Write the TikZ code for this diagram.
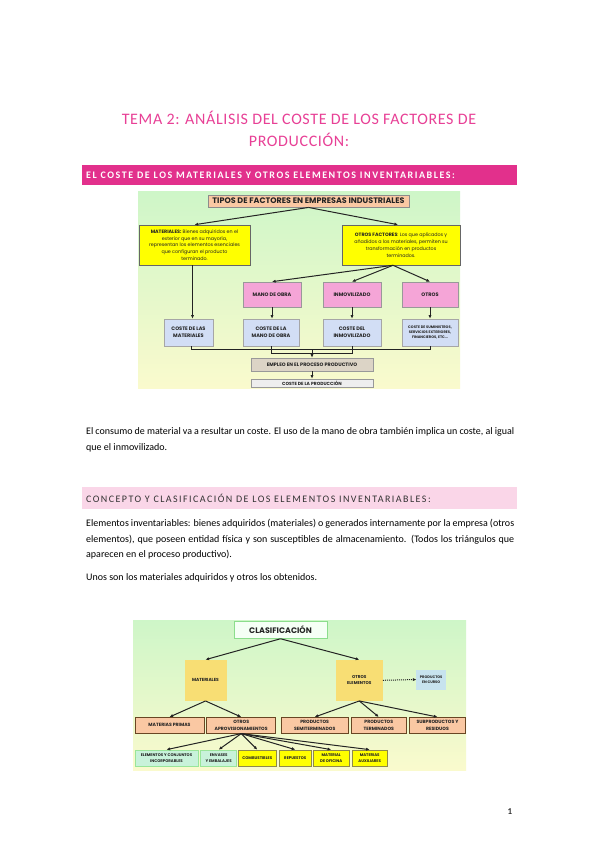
\documentclass[tikz,border=0pt]{standalone}
\usepackage{fontspec}
\setmainfont{Carlito}
\newfontfamily\gfont{Poppins}
\usetikzlibrary{arrows.meta,calc}
\definecolor{titpink}{RGB}{232,64,150}
\definecolor{banmag}{RGB}{226,48,140}
\definecolor{banlite}{RGB}{250,214,232}
\definecolor{peach}{RGB}{250,200,163}
\definecolor{ybox}{RGB}{255,255,0}
\definecolor{pinkbox}{RGB}{245,165,215}
\definecolor{bluebox}{RGB}{210,222,245}
\definecolor{empl}{RGB}{220,212,198}
\definecolor{cprodc}{RGB}{238,238,238}
\definecolor{goldbox}{RGB}{248,222,116}
\definecolor{curso}{RGB}{199,227,238}
\definecolor{mint}{RGB}{200,242,218}
\definecolor{bgg}{RGB}{206,246,200}
\definecolor{bgy}{RGB}{250,250,205}
\definecolor{ink}{RGB}{35,35,35}
\tikzset{
 bx/.style={draw, rectangle, align=center, text=ink, inner sep=0.5pt,
   font=\gfont\bfseries\fontsize{5}{7}\selectfont, line width=0.6pt},
 arr/.style={-{Latex[length=3.6pt,width=3.2pt]}, line width=1pt, draw=ink},
 ln/.style={line width=1pt, draw=ink},
 bodyl/.style={anchor=base west, inner sep=0pt, text=black, font=\fontsize{10}{12}\selectfont},
 rowtwo/.style={bx, fill=peach, draw=black!45!brown, minimum height=16pt, font=\gfont\bfseries\fontsize{4.6}{6.6}\selectfont},
 rowthree/.style={bx, minimum height=16.7pt, font=\gfont\bfseries\fontsize{3.9}{5.6}\selectfont},
 titl/.style={text=titpink, inner sep=0pt, font=\fontsize{16}{19}\selectfont\addfontfeature{LetterSpace=4}},
}
\begin{document}
\begin{tikzpicture}[x=1pt,y=-1pt]
\useasboundingbox (0,0) rectangle (599,848);
\fill[white] (0,0) rectangle (599,848);

% ---- title
\node[titl] (t1) at (299,117.5) {TEMA 2: ANÁLISIS DEL COSTE DE LOS FACTORES DE};
\node[titl] (t2) at (299,140) {PRODUCCIÓN:};

% ---- banner 1
\fill[banmag] (82,165) rectangle (517,185);
\node[anchor=west, text=white, inner sep=0pt, font=\bfseries\fontsize{10}{11}\selectfont\addfontfeature{LetterSpace=15.5}] (b1) at (86,175.3) {EL COSTE DE LOS MATERIALES Y OTROS ELEMENTOS INVENTARIABLES:};

% ---- diagram 1
\shade[top color=bgg, bottom color=bgy] (138,191) rectangle (460,388);
\node[bx, fill=peach, draw=black!45, line width=0.9pt, minimum width=201pt, minimum height=12pt, font=\gfont\bfseries\fontsize{8}{9}\selectfont] (tipos) at (308.5,201) {TIPOS DE FACTORES EN EMPRESAS INDUSTRIALES};
\node[bx, fill=ybox, draw=black!60, minimum width=111pt, minimum height=40pt, font=\gfont\fontsize{4.8}{6.8}\selectfont] (mat) at (194.5,245) {\textbf{MATERIALES:} Bienes adquiridos en el\\exterior que en su mayoría,\\representan los elementos esenciales\\que configuran el producto\\terminado.};
\node[bx, fill=ybox, draw=black!60, minimum width=118pt, minimum height=40pt, font=\gfont\fontsize{4.8}{6.8}\selectfont] (otf) at (401,245) {\textbf{OTROS FACTORES}: Los que aplicados y\\añadidos a los materiales, permiten su\\transformación en productos\\terminados.};
\node[bx, fill=pinkbox, draw=black!40, minimum width=58pt, minimum height=25pt] (mano) at (272,294.5) {MANO DE OBRA};
\node[bx, fill=pinkbox, draw=black!40, minimum width=58pt, minimum height=25pt] (inm) at (352,294.5) {INMOVILIZADO};
\node[bx, fill=pinkbox, draw=black!40, minimum width=56pt, minimum height=25pt] (otr) at (430,294.5) {OTROS};
\node[bx, fill=bluebox, draw=black!35, minimum width=49pt, minimum height=27pt] (cmat) at (188.5,332.5) {COSTE DE LAS\\MATERIALES};
\node[bx, fill=bluebox, draw=black!35, minimum width=56pt, minimum height=27pt] (cmo) at (271,332.5) {COSTE DE LA\\MANO DE OBRA};
\node[bx, fill=bluebox, draw=black!35, minimum width=58pt, minimum height=27pt] (cinm) at (352,332.5) {COSTE DEL\\INMOVILIZADO};
\node[bx, fill=bluebox, draw=black!35, minimum width=56pt, minimum height=27pt, font=\gfont\bfseries\fontsize{3.6}{5.2}\selectfont] (cotr) at (430,332.5) {COSTE DE SUMINISTROS,\\SERVICIOS EXTERIORES,\\FINANCIEROS, ETC...};
\node[bx, fill=empl, draw=black!40, minimum width=122pt, minimum height=13pt, font=\gfont\bfseries\fontsize{4.9}{6}\selectfont] (emp) at (312,364.5) {EMPLEO EN EL PROCESO PRODUCTIVO};
\node[bx, fill=cprodc, draw=black!40, minimum width=122pt, minimum height=8pt, font=\gfont\bfseries\fontsize{4.5}{5}\selectfont] (cprod) at (312,383) {COSTE DE LA PRODUCCIÓN};

\draw[arr] (tipos.south) -- (mat.north);
\draw[arr] (tipos.south) -- ([xshift=-3pt]otf.north);
\draw[arr] ([xshift=-2pt]mat.south) -- ([xshift=-2pt]mat.south |- cmat.north);
\draw[arr] ([xshift=-8pt]otf.south) -- (mano.north);
\draw[arr] ([xshift=-8pt]otf.south) -- (inm.north);
\draw[arr] ([xshift=-8pt]otf.south) -- (otr.north);
\draw[arr] (mano.south) -- (mano.south |- cmo.north);
\draw[arr] (inm.south) -- (cinm.north);
\draw[arr] (otr.south) -- (cotr.north);
\draw[ln] ([xshift=3pt]cmat.south) -- ++(0,3.5) -| (cotr.south);
\draw[ln] (cmo.south) -- ++(0,7) -| (cinm.south);
\coordinate (j1) at (312,349.5);
\draw[arr] (j1) -- (emp.north);
\draw[arr] (emp.south) -- (cprod.north);

% ---- paragraph 1
\node[bodyl] (p1a) at (86,434) {\makebox[428pt][s]{El consumo de material va a resultar un coste. El uso de la mano de obra también implica un coste, al igual}};
\node[bodyl] (p1b) at (86,450) {que el inmovilizado.};

% ---- banner 2
\fill[banlite] (82,487) rectangle (517,509);
\node[anchor=west, text=black!80, inner sep=0pt, font=\fontsize{10}{11}\selectfont\addfontfeature{LetterSpace=14.5}] (b2) at (86,498) {CONCEPTO Y CLASIFICACIÓN DE LOS ELEMENTOS INVENTARIABLES:};

% ---- paragraph 2 and 3
\node[bodyl] (p2a) at (86,526) {\makebox[428pt][s]{Elementos inventariables: bienes adquiridos (materiales) o generados internamente por la empresa (otros}};
\node[bodyl] (p2b) at (86,542) {\makebox[428pt][s]{elementos), que poseen entidad física y son susceptibles de almacenamiento. (Todos los triángulos que}};
\node[bodyl] (p2c) at (86,557) {aparecen en el proceso productivo).};
\node[bodyl] (p3) at (86,580) {Unos son los materiales adquiridos y otros los obtenidos.};

% ---- diagram 2
\shade[top color=bgg, bottom color=bgy] (133,620) rectangle (466,770);
\node[bx, fill=green!4, draw=black!30!green!45, line width=1pt, minimum width=93pt, minimum height=16.5pt, font=\gfont\bfseries\fontsize{8}{9}\selectfont] (clas) at (280.5,630) {CLASIFICACIÓN};
\node[bx, fill=goldbox, draw=goldbox, minimum width=41pt, minimum height=40.7pt, font=\gfont\bfseries\fontsize{4.4}{6}\selectfont] (mat2) at (205.5,680.3) {MATERIALES};
\node[bx, fill=goldbox, draw=goldbox, minimum width=46.7pt, minimum height=40.7pt, font=\gfont\bfseries\fontsize{4.2}{6}\selectfont] (ote) at (359.3,680.3) {OTROS\\ELEMENTOS};
\node[bx, fill=curso, draw=curso, minimum width=29pt, minimum height=19pt, font=\gfont\bfseries\fontsize{3.6}{5.2}\selectfont] (pec) at (431.2,679.5) {PRODUCTOS\\EN CURSO};

\node[rowtwo, minimum width=69pt] (mp) at (169.5,725.3) {MATERIAS PRIMAS};
\node[rowtwo, minimum width=69pt] (oap) at (241.2,725.3) {OTROS\\APROVISIONAMIENTOS};
\node[rowtwo, minimum width=67.3pt] (ps) at (314.7,725.3) {PRODUCTOS\\SEMITERMINADOS};
\node[rowtwo, minimum width=54.3pt] (pt) at (378.8,725.3) {PRODUCTOS\\TERMINADOS};
\node[rowtwo, minimum width=56.4pt] (sr) at (437.5,725.3) {SUBPRODUCTOS Y\\RESIDUOS};

\node[rowthree, fill=mint, draw=black!25!green!40, minimum width=63pt] (ec) at (166.5,758.3) {ELEMENTOS Y CONJUNTOS\\INCORPORABLES};
\node[rowthree, fill=mint, draw=black!25!green!40, minimum width=36pt] (env) at (218.7,758.3) {ENVASES\\Y EMBALAJES};
\node[rowthree, fill=ybox, draw=black!50!yellow, minimum width=38.7pt] (com) at (257.3,758.3) {COMBUSTIBLES};
\node[rowthree, fill=ybox, draw=black!50!yellow, minimum width=32.7pt] (rep) at (295.3,758.3) {REPUESTOS};
\node[rowthree, fill=ybox, draw=black!50!yellow, minimum width=36.5pt] (mof) at (331.2,758.3) {MATERIAL\\DE OFICINA};
\node[rowthree, fill=ybox, draw=black!50!yellow, minimum width=35.5pt] (mau) at (369.7,758.3) {MATERIAS\\AUXILIARES};

\draw[arr] (clas.south) -- (mat2.north);
\draw[arr] (clas.south) -- (ote.north);
\draw[arr, densely dotted] (ote.east) -- (pec.west);
\draw[arr] (mat2.south) -- (mp.north);
\draw[arr] (mat2.south) -- (oap.north);
\draw[arr] (ote.south) -- (ps.north);
\draw[arr] (ote.south) -- (pt.north);
\draw[arr] (ote.south) -- (sr.north);
\foreach \t in {ec,env,com,rep,mof,mau}{
  \draw[arr] (oap.south) -- (\t.north);
}

% ---- page number
\node[font=\bfseries\fontsize{9}{10}\selectfont, text=black!80, inner sep=0pt] (pg) at (510,812) {1};
\end{tikzpicture}
\end{document}
